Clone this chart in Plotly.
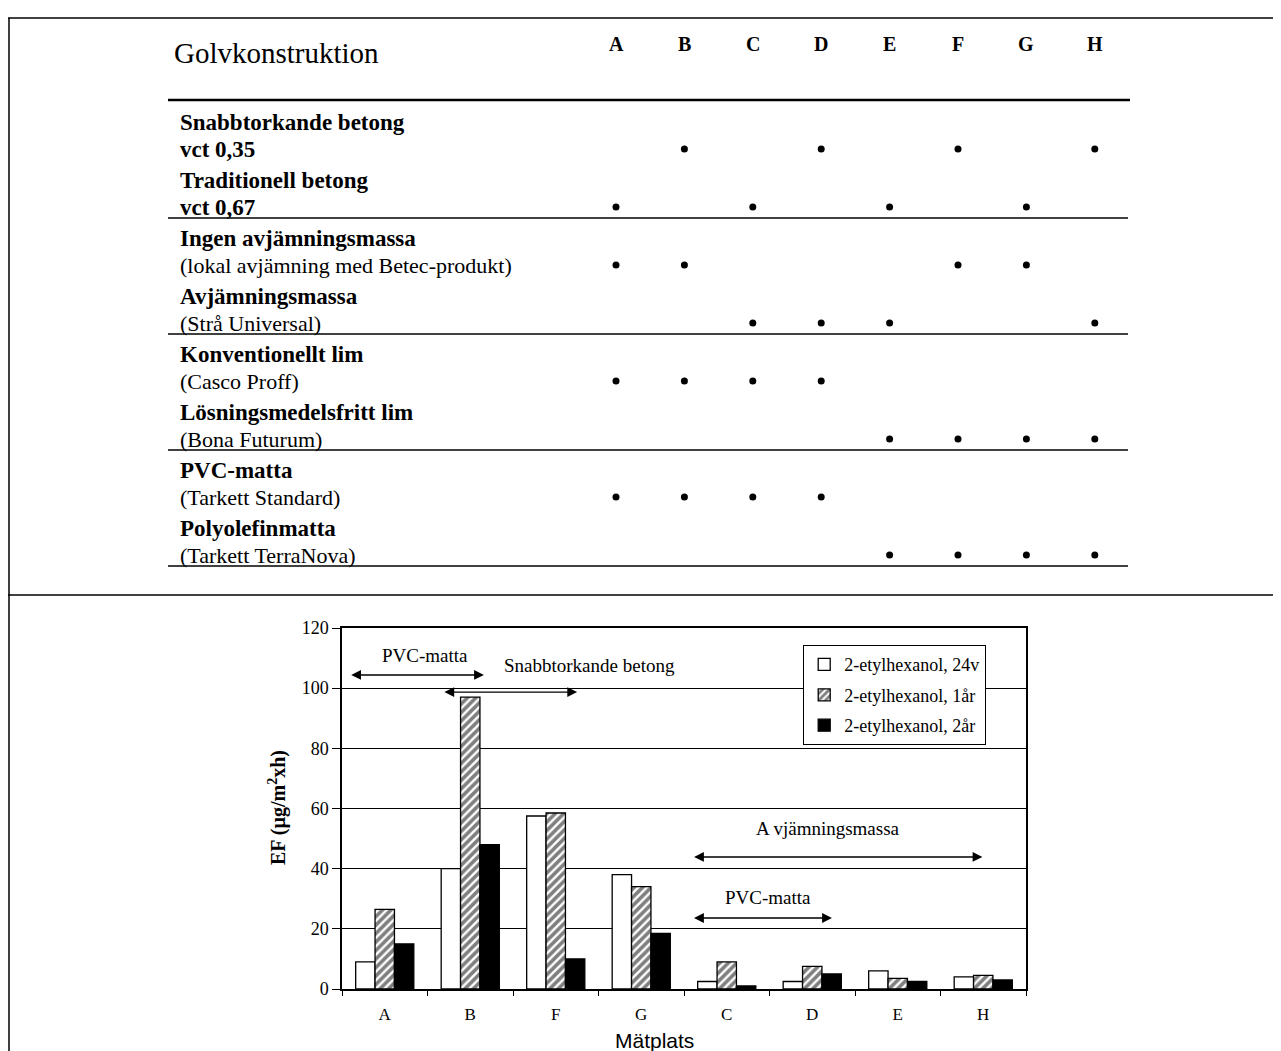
import plotly.graph_objects as go

# ---------------- data ----------------
sites = ["A", "B", "F", "G", "C", "D", "E", "H"]
ef_24v = [9, 40, 57.5, 38, 2.5, 2.5, 6, 4]
ef_1ar = [26.5, 97, 58.5, 34, 9, 7.5, 3.5, 4.5]
ef_2ar = [15, 48, 10, 18.5, 1, 5, 2.5, 3]
series_names = ["2-etylhexanol, 24v", "2-etylhexanol, 1år", "2-etylhexanol, 2år"]
y_ticks = [0, 20, 40, 60, 80, 100, 120]

table_columns = ["A", "B", "C", "D", "E", "F", "G", "H"]
row_titles = ["Snabbtorkande betong", "Traditionell betong", "Ingen avjämningsmassa",
              "Avjämningsmassa", "Konventionellt lim", "Lösningsmedelsfritt lim",
              "PVC-matta", "Polyolefinmatta"]
row_subtitles = ["vct 0,35", "vct 0,67", "(lokal avjämning med Betec-produkt)",
                 "(Strå Universal)", "(Casco Proff)", "(Bona Futurum)",
                 "(Tarkett Standard)", "(Tarkett TerraNova)"]
row_sub_bold = [True, True, False, False, False, False, False, False]
row_members = [["B", "D", "F", "H"], ["A", "C", "E", "G"], ["A", "B", "F", "G"],
               ["C", "D", "E", "H"], ["A", "B", "C", "D"], ["E", "F", "G", "H"],
               ["A", "B", "C", "D"], ["E", "F", "G", "H"]]

# range annotations on the chart: (label, x_start, x_end, arrow_y, text_x, text_y)
range_notes = [
    ("PVC-matta", -0.41, 1.16, 104.4, 0.47, 110.7),
    ("Snabbtorkande betong", 0.68, 2.25, 98.7, 2.40, 107.4),
    ("A vjämningsmassa", 3.60, 6.99, 43.9, 5.18, 53.2),
    ("PVC-matta", 3.60, 5.23, 23.6, 4.48, 30.3),
]

# ---------------- layout geometry (screen pixels) ----------------
OFF = 8                      # page body margin
SW, SH = 1281, 1051
W, H = SW - OFF, SH - OFF
SERIF = "Liberation Serif, Times New Roman, serif"
SANS = "Liberation Sans, Arial, sans-serif"


def fx(px):
    return (px - OFF) / W


def fy(py):
    return 1 - (py - OFF) / H


px0, px1 = 342, 1026          # plot area x (screen)
py_bottom, py_top = 989, 628  # plot area y (screen)

fig = go.Figure()

# ---------------- bar chart ----------------
fig.add_trace(go.Bar(
    x=sites, y=ef_24v, name=series_names[0], legendgroup="g1",
    marker=dict(color="white", line=dict(color="black", width=1.3)),
))
fig.add_trace(go.Bar(
    x=sites, y=ef_1ar, name=series_names[1], legendgroup="g2",
    marker=dict(color="white", line=dict(color="black", width=1.3),
                pattern=dict(shape="/", fgcolor="black", bgcolor="white",
                             size=6, solidity=0.6)),
))
fig.add_trace(go.Bar(
    x=sites, y=ef_2ar, name=series_names[2], legendgroup="g3",
    marker=dict(color="black", line=dict(color="black", width=1.3)),
))

# ---------------- table (screen-pixel overlay axes) ----------------
col_x = {c: 616 + i * 68.4 for i, c in enumerate(table_columns)}
title_y = [122 + 58 * i for i in range(len(row_titles))]
sub_y = [149 + 58 * i for i in range(len(row_subtitles))]

dot_x, dot_y = [], []
for members, yy in zip(row_members, sub_y):
    for c in members:
        dot_x.append(col_x[c])
        dot_y.append(yy)
fig.add_trace(go.Scatter(
    x=dot_x, y=dot_y, mode="markers", xaxis="x2", yaxis="y2",
    marker=dict(color="black", size=7), showlegend=False, hoverinfo="skip",
))

annotations = []
shapes = []

annotations.append(dict(text="Golvkonstruktion", x=172, y=53, xref="x2", yref="y2",
                        xanchor="left", yanchor="middle", showarrow=False,
                        font=dict(family=SERIF, size=29, color="black")))
for c in table_columns:
    annotations.append(dict(text="<b>%s</b>" % c, x=col_x[c], y=44, xref="x2", yref="y2",
                            xanchor="center", yanchor="middle", showarrow=False,
                            font=dict(family=SERIF, size=20, color="black")))
for t, ty, s, sy, sb in zip(row_titles, title_y, row_subtitles, sub_y, row_sub_bold):
    annotations.append(dict(text="<b>%s</b>" % t, x=178, y=ty, xref="x2", yref="y2",
                            xanchor="left", yanchor="middle", showarrow=False,
                            font=dict(family=SERIF, size=23, color="black")))
    annotations.append(dict(text=("<b>%s</b>" % s) if sb else s, x=178, y=sy,
                            xref="x2", yref="y2", xanchor="left", yanchor="middle",
                            showarrow=False,
                            font=dict(family=SERIF, size=23 if sb else 22, color="black")))

# table rules
shapes.append(dict(type="line", xref="x2", yref="y2", x0=168, x1=1130, y0=100, y1=100,
                   line=dict(color="black", width=2.5)))
for i in range(1, len(sub_y), 2):
    yy = sub_y[i] + 11
    shapes.append(dict(type="line", xref="x2", yref="y2", x0=168, x1=1128, y0=yy, y1=yy,
                       line=dict(color="black", width=1.6)))
# outer frame lines
shapes.append(dict(type="line", xref="x2", yref="y2", x0=8, x1=1281, y0=18, y1=18,
                   line=dict(color="black", width=1.5)))
shapes.append(dict(type="line", xref="x2", yref="y2", x0=9, x1=9, y0=18, y1=1051,
                   line=dict(color="black", width=1.5)))
shapes.append(dict(type="line", xref="x2", yref="y2", x0=8, x1=1281, y0=595, y1=595,
                   line=dict(color="black", width=1.5)))

# chart range arrows + labels
for label, xs, xe, ay, tx, ty in range_notes:
    annotations.append(dict(x=xe, y=ay, ax=xs, ay=ay, xref="x", yref="y",
                            axref="x", ayref="y", text="", showarrow=True,
                            arrowhead=2, arrowside="end+start", arrowsize=1.4,
                            arrowwidth=1.4, arrowcolor="black"))
    annotations.append(dict(x=tx, y=ty, xref="x", yref="y", text=label, showarrow=False,
                            font=dict(family=SERIF, size=19, color="black")))

# axis titles
annotations.append(dict(text="<b>EF (µg/m<sup>2</sup>xh)</b>", x=fx(277), y=fy(808),
                        xref="paper", yref="paper", textangle=-90, showarrow=False,
                        xanchor="center", yanchor="middle",
                        font=dict(family=SERIF, size=20, color="black")))
annotations.append(dict(text="Mätplats", x=fx(654), y=fy(1040),
                        xref="paper", yref="paper", showarrow=False,
                        xanchor="center", yanchor="middle",
                        font=dict(family=SANS, size=21, color="black")))

fig.update_layout(
    width=W, height=H, autosize=False,
    margin=dict(l=0, r=0, t=0, b=0, pad=0),
    paper_bgcolor="white", plot_bgcolor="rgba(0,0,0,0)",
    barmode="group", bargap=0.32, bargroupgap=0,
    font=dict(family=SERIF, color="black"),
    xaxis=dict(domain=[fx(px0), fx(px1)], anchor="y", type="category",
               categoryorder="array", categoryarray=sites,
               showline=True, linecolor="black", linewidth=1.5, mirror=True,
               ticks="outside", tickson="boundaries", ticklen=5, tickcolor="black",
               ticklabelstandoff=9,
               tickfont=dict(family=SERIF, size=17, color="black"),
               showgrid=False, automargin=False, fixedrange=True),
    yaxis=dict(domain=[fy(py_bottom), fy(py_top)], anchor="x",
               range=[0, 120], tickvals=y_ticks, ticks="outside", ticklen=8,
               tickcolor="black", showline=True, linecolor="black", linewidth=1.5,
               mirror=True, showgrid=True, gridcolor="black", gridwidth=1.3,
               zeroline=False, tickfont=dict(family=SERIF, size=18, color="black"),
               automargin=False, fixedrange=True),
    xaxis2=dict(domain=[0, 1], anchor="y2", range=[OFF, SW], visible=False,
                fixedrange=True),
    yaxis2=dict(domain=[0, 1], anchor="x2", range=[SH, OFF], visible=False,
                fixedrange=True),
    legend=dict(x=fx(803), y=fy(645), xanchor="left", yanchor="top",
                bordercolor="black", borderwidth=1.2, bgcolor="white",
                font=dict(family=SERIF, size=18, color="black"),
                traceorder="grouped", itemwidth=30, tracegroupgap=4),
    annotations=annotations,
    shapes=shapes,
)

fig.write_html("out.html")
